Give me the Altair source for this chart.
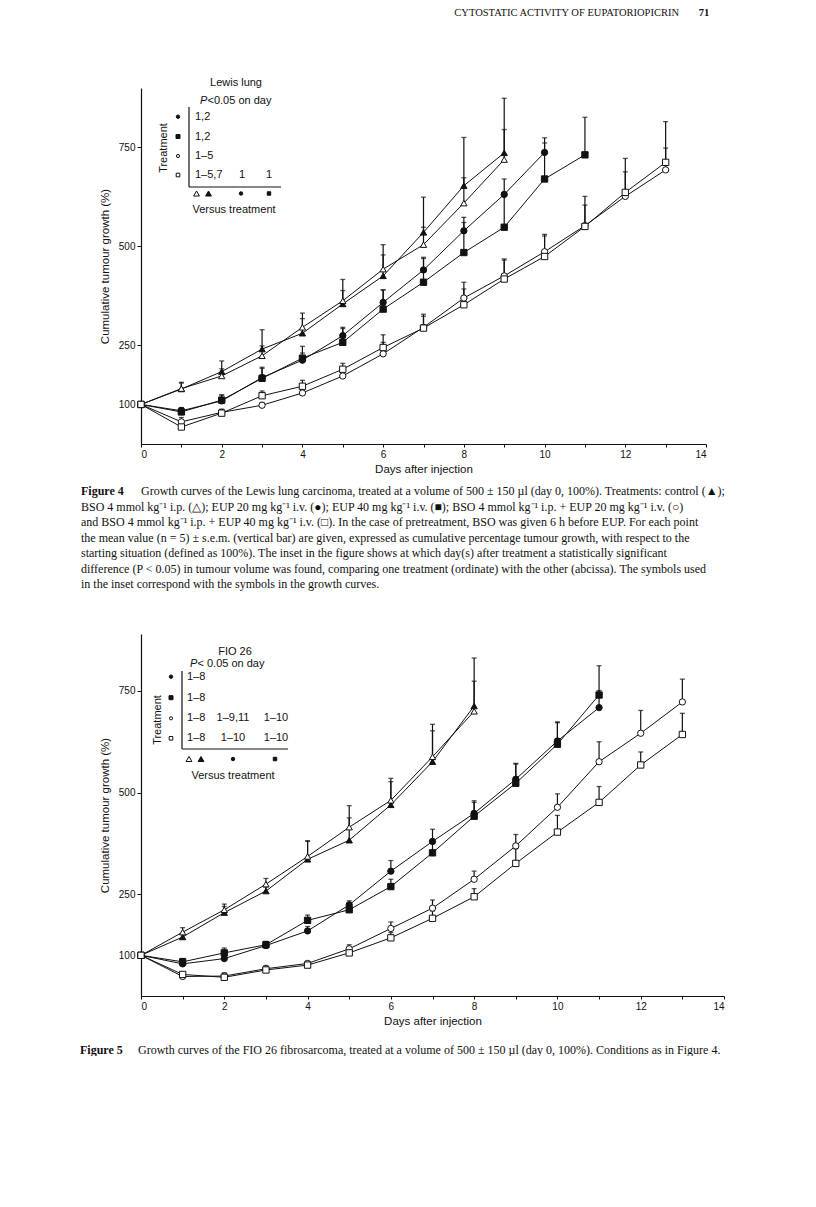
import altair as alt
import pandas as pd

# ---------------- data ----------------
SERIES = ["control", "BSO", "EUP 20", "EUP 40", "BSO + EUP 20", "BSO + EUP 40"]
SHAPES = ["triangle-up", "triangle-up", "circle", "square", "circle", "square"]
FILLS = ["#111111", "white", "#111111", "#111111", "white", "white"]
SIZES = [40, 40, 16, 20, 16, 22]

# Figure 4 - Lewis lung (mean, and mean + s.e.m.)
LL_CONTROL = [100, 139, 183, 240, 280, 354, 425, 535, 653, 736]
LL_CONTROL_ERR = [None, 156, 210, 289, 317, 416, 504, 624, 775, 874]
LL_BSO = [100, 140, 172, 223, 295, 362, 442, 504, 609, 719]
LL_BSO_ERR = [None, 154, 190, 248, 331, 388, 478, 548, 673, 795]
LL_EUP20 = [100, 84, 109, 168, 212, 274, 358, 440, 539, 631, 737]
LL_EUP20_ERR = [None, 92, 124, 191, 230, 295, 389, 469, 573, 670, 774]
LL_EUP40 = [100, 81, 111, 166, 217, 257, 341, 409, 484, 548, 670, 731]
LL_EUP40_ERR = [None, 92, 124, 194, 247, 292, 390, 472, 560, 632, 761, 826]
LL_BSO_EUP20 = [100, 56, 80, 98, 129, 172, 228, 295, 369, 425, 486, 552, 626, 693]
LL_BSO_EUP20_ERR = [None, 67, 88, 105, 140, 185, 257, 328, 409, 465, 526, 604, 688, 748]
LL_BSO_EUP40 = [100, 43, 78, 122, 146, 189, 244, 293, 352, 417, 474, 550, 636, 712]
LL_BSO_EUP40_ERR = [None, 50, 85, 134, 161, 204, 276, 323, 392, 468, 530, 626, 722, 815]

# Figure 5 - FIO 26
FIO_CONTROL = [100, 145, 205, 258, 336, 383, 470, 576, 713]
FIO_CONTROL_ERR = [None, 152, 220, 268, 380, 438, 527, 652, 831]
FIO_BSO = [100, 157, 212, 275, 343, 415, 481, 588, 700]
FIO_BSO_ERR = [None, 168, 226, 289, 382, 468, 535, 668, 774]
FIO_EUP20 = [100, 79, 92, 124, 160, 224, 307, 380, 449, 533, 627, 709]
FIO_EUP20_ERR = [None, 92, 100, 134, 171, 234, 333, 410, 480, 572, 672, 751]
FIO_EUP40 = [100, 84, 106, 126, 186, 212, 269, 352, 442, 523, 619, 740]
FIO_EUP40_ERR = [None, 92, 118, 134, 199, 220, 287, 378, 476, 570, 674, 812]
FIO_BSO_EUP20 = [100, 48, 49, 67, 80, 116, 166, 216, 287, 369, 464, 576, 646, 723]
FIO_BSO_EUP20_ERR = [None, 53, 57, 75, 85, 126, 182, 236, 307, 397, 497, 625, 702, 779]
FIO_BSO_EUP40 = [100, 53, 46, 64, 76, 106, 143, 191, 244, 326, 403, 476, 568, 643]
FIO_BSO_EUP40_ERR = [None, 56, 50, 68, 80, 110, 156, 209, 264, 362, 444, 515, 600, 695]

X_TICKS = list(range(15))
Y_TICKS = [100, 250, 500, 750]

HEADER = "CYTOSTATIC ACTIVITY OF EUPATORIOPICRIN"
PAGE = "71"
CAP4_LINES = [
    "Growth curves of the Lewis lung carcinoma, treated at a volume of 500 \u00b1 150 \u00b5l (day 0, 100%). Treatments: control (\u25b2);",
    "BSO 4 mmol kg\u207b\u00b9 i.p. (\u25b3); EUP 20 mg kg\u207b\u00b9 i.v. (\u25cf); EUP 40 mg kg\u207b\u00b9 i.v. (\u25a0); BSO 4 mmol kg\u207b\u00b9 i.p. + EUP 20 mg kg\u207b\u00b9 i.v. (\u25cb)",
    "and BSO 4 mmol kg\u207b\u00b9 i.p. + EUP 40 mg kg\u207b\u00b9 i.v. (\u25a1). In the case of pretreatment, BSO was given 6 h before EUP. For each point",
    "the mean value (n = 5) \u00b1 s.e.m. (vertical bar) are given, expressed as cumulative percentage tumour growth, with respect to the",
    "starting situation (defined as 100%). The inset in the figure shows at which day(s) after treatment a statistically significant",
    "difference (P < 0.05) in tumour volume was found, comparing one treatment (ordinate) with the other (abcissa). The symbols used",
    "in the inset correspond with the symbols in the growth curves.",
]
CAP5_LINE = "Growth curves of the FIO 26 fibrosarcoma, treated at a volume of 500 \u00b1 150 \u00b5l (day 0, 100%). Conditions as in Figure 4."

LL_INSET = {"title": "Lewis lung", "rows": [["1,2"], ["1,2"], ["1\u20135"], ["1\u20135,7", "1", "1"]]}
FIO_INSET = {"title": "FIO 26", "rows": [["1\u20138"], ["1\u20138"], ["1\u20138", "1\u20139,11", "1\u201310"], ["1\u20138", "1\u201310", "1\u201310"]]}


def build(values, errs):
    rows = []
    for s, v, e in zip(SERIES, values, errs):
        for d, (val, er) in enumerate(zip(v, e)):
            rows.append({"series": s, "day": d, "value": val, "err": er})
    return pd.DataFrame(rows)


ll_df = build([LL_CONTROL, LL_BSO, LL_EUP20, LL_EUP40, LL_BSO_EUP20, LL_BSO_EUP40],
              [LL_CONTROL_ERR, LL_BSO_ERR, LL_EUP20_ERR, LL_EUP40_ERR, LL_BSO_EUP20_ERR, LL_BSO_EUP40_ERR])
fio_df = build([FIO_CONTROL, FIO_BSO, FIO_EUP20, FIO_EUP40, FIO_BSO_EUP20, FIO_BSO_EUP40],
               [FIO_CONTROL_ERR, FIO_BSO_ERR, FIO_EUP20_ERR, FIO_EUP40_ERR, FIO_BSO_EUP20_ERR, FIO_BSO_EUP40_ERR])

SANS = "Liberation Sans"
SERIF = "Liberation Serif"
ONE = pd.DataFrame({"k": [0]})
INK = "#111111"


def txt(t, x, y, size=11, align="left", font=SANS, **kw):
    return alt.Chart(ONE).mark_text(text=t, align=align, baseline="middle", font=font,
                                    fontSize=size, color=INK, **kw).encode(
        x=alt.value(x), y=alt.value(y))


def sym(shape, fill, x, y, size):
    return alt.Chart(ONE).mark_point(shape=shape, fill=fill, stroke=INK, strokeWidth=1,
                                     opacity=1, fillOpacity=1, size=size).encode(
        x=alt.value(x), y=alt.value(y))


def hline(x1, x2, y):
    return alt.Chart(ONE).mark_rule(color=INK, strokeWidth=1.2).encode(
        x=alt.value(x1), x2=alt.value(x2), y=alt.value(y))


def vline(x, y1, y2):
    return alt.Chart(ONE).mark_rule(color=INK, strokeWidth=1.2).encode(
        x=alt.value(x), y=alt.value(y1), y2=alt.value(y2))


def panel(df, ymax, inset, g):
    xs = alt.Scale(domain=[0, 14], nice=False)
    ys = alt.Scale(domain=[0, ymax], nice=False)
    xax = alt.Axis(values=X_TICKS, labelExpr="datum.value % 2 === 0 ? datum.label : ''",
                   title="Days after injection", tickSize=3, labelPadding=2, titlePadding=4, grid=False)
    yax = alt.Axis(values=Y_TICKS, title="Cumulative tumour growth (%)", tickSize=4,
                   labelPadding=2, titlePadding=g["ytp"], grid=False)
    X = alt.X("day:Q", scale=xs, axis=xax)

    base = alt.Chart(df)
    lines = base.mark_line(color=INK, strokeWidth=1).encode(
        x=X, y=alt.Y("value:Q", scale=ys, axis=yax), detail="series:N")
    bars = base.transform_filter("datum.err != null").mark_rule(color=INK, strokeWidth=1.2).encode(
        x=X, y=alt.Y("value:Q", scale=ys, axis=yax), y2="err:Q")
    caps = base.transform_filter("datum.err != null").mark_tick(
        orient="horizontal", size=5, thickness=1.3, color=INK).encode(
        x=X, y=alt.Y("err:Q", scale=ys, axis=yax))
    pts = base.mark_point(stroke=INK, strokeWidth=1, opacity=1, fillOpacity=1).encode(
        x=X, y=alt.Y("value:Q", scale=ys, axis=yax),
        shape=alt.Shape("series:N", scale=alt.Scale(domain=SERIES, range=SHAPES), legend=None),
        fill=alt.Fill("series:N", scale=alt.Scale(domain=SERIES, range=FILLS), legend=None),
        size=alt.Size("series:N", scale=alt.Scale(domain=SERIES, range=SIZES), legend=None))

    layers = [lines, bars, caps, pts]
    # inset
    layers.append(txt(inset["title"], g["title_x"], g["title_y"], align="center"))
    layers.append(txt("P", g["p_x"], g["p_y"], fontStyle="italic"))
    layers.append(txt(g["p_rest"], g["p_x"] + 7.5, g["p_y"]))
    layers.append(txt("Treatment", g["tr_x"], g["tr_y"], align="center", angle=270))
    layers.append(vline(g["vx"], g["vy1"], g["vy2"]))
    layers.append(hline(g["vx"], g["hx2"], g["vy2"]))
    row_shapes = [("circle", INK, 12), ("square", INK, 16), ("circle", "white", 10), ("square", "white", 13)]
    for i, (rowtxt, (shp, fl, sz)) in enumerate(zip(inset["rows"], row_shapes)):
        yy = g["row_y"][i]
        layers.append(sym(shp, fl, g["sym_x"], yy, sz))
        layers.append(txt(rowtxt[0], g["col1_x"], yy))
        for j, t in enumerate(rowtxt[1:]):
            layers.append(txt(t, g["col_x"][j], yy, align="center"))
    by = g["bot_y"]
    layers.append(sym("triangle-up", "white", g["bot_x"][0], by, 34))
    layers.append(sym("triangle-up", INK, g["bot_x"][1], by, 34))
    layers.append(sym("circle", INK, g["bot_x"][2], by, 12))
    layers.append(sym("square", INK, g["bot_x"][3], by, 12))
    layers.append(txt("Versus treatment", g["vt_x"], g["vt_y"], align="center"))
    return layers


# ---------------- Figure 4 ----------------
W1, H1 = 565, 356
geo1 = dict(title_x=95, title_y=-5, p_x=59, p_y=13, p_rest="<0.05  on  day",
            tr_x=23, tr_y=60, vx=48, vy1=19, vy2=99, hx2=140,
            row_y=[28.7, 48.5, 68, 87], sym_x=37, col1_x=54, col_x=[101, 128],
            bot_y=105.5, bot_x=[55.5, 67.5, 100, 128], vt_x=93, vt_y=121.5, ytp=8)
l1 = panel(ll_df, 900, LL_INSET, geo1)
l1.append(txt(HEADER, 538, -75, size=10.5, align="right", font=SERIF))
l1.append(txt(PAGE, 563, -75, size=10.5, align="center", font=SERIF, fontWeight="bold"))
l1.append(txt("Figure 4", -60, 403, size=12, font=SERIF, fontWeight="bold"))
for i, line in enumerate(CAP4_LINES):
    l1.append(txt(line, 0 if i == 0 else -60, 403 + 15.5 * i, size=12, font=SERIF))
fig4 = alt.layer(*l1).properties(width=W1, height=H1)

# ---------------- Figure 5 ----------------
W2, H2 = 583, 362
geo2 = dict(title_x=94, title_y=18, p_x=49, p_y=30, p_rest=" <  0.05  on  day",
            tr_x=17, tr_y=86, vx=41, vy1=37, vy2=115, hx2=147,
            row_y=[42.7, 63.7, 84.3, 104.3], sym_x=30, col1_x=46, col_x=[92, 135],
            bot_y=125, bot_x=[48, 60, 92, 134], vt_x=92, vt_y=142, ytp=8)
l2 = panel(fio_df, 890, FIO_INSET, geo2)
l2.append(txt("Figure 5", -61, 416, size=12, font=SERIF, fontWeight="bold"))
l2.append(txt(CAP5_LINE, -3, 416, size=12, font=SERIF))
fig5 = alt.layer(*l2).properties(width=W2, height=H2)

chart = alt.vconcat(fig4, fig5, spacing=44).properties(
    padding={"left": 72, "top": 0, "right": 0, "bottom": 0}
).configure(background="white").configure_view(stroke=None).configure_axis(
    domainColor=INK, tickColor=INK, labelColor=INK, titleColor=INK,
    labelFont=SANS, titleFont=SANS, labelFontSize=10, titleFontSize=11.5,
    titleFontWeight="normal", grid=False, domainWidth=1.2, tickWidth=1
)

chart.save("out.html", embed_options={"renderer": "svg", "actions": False})
